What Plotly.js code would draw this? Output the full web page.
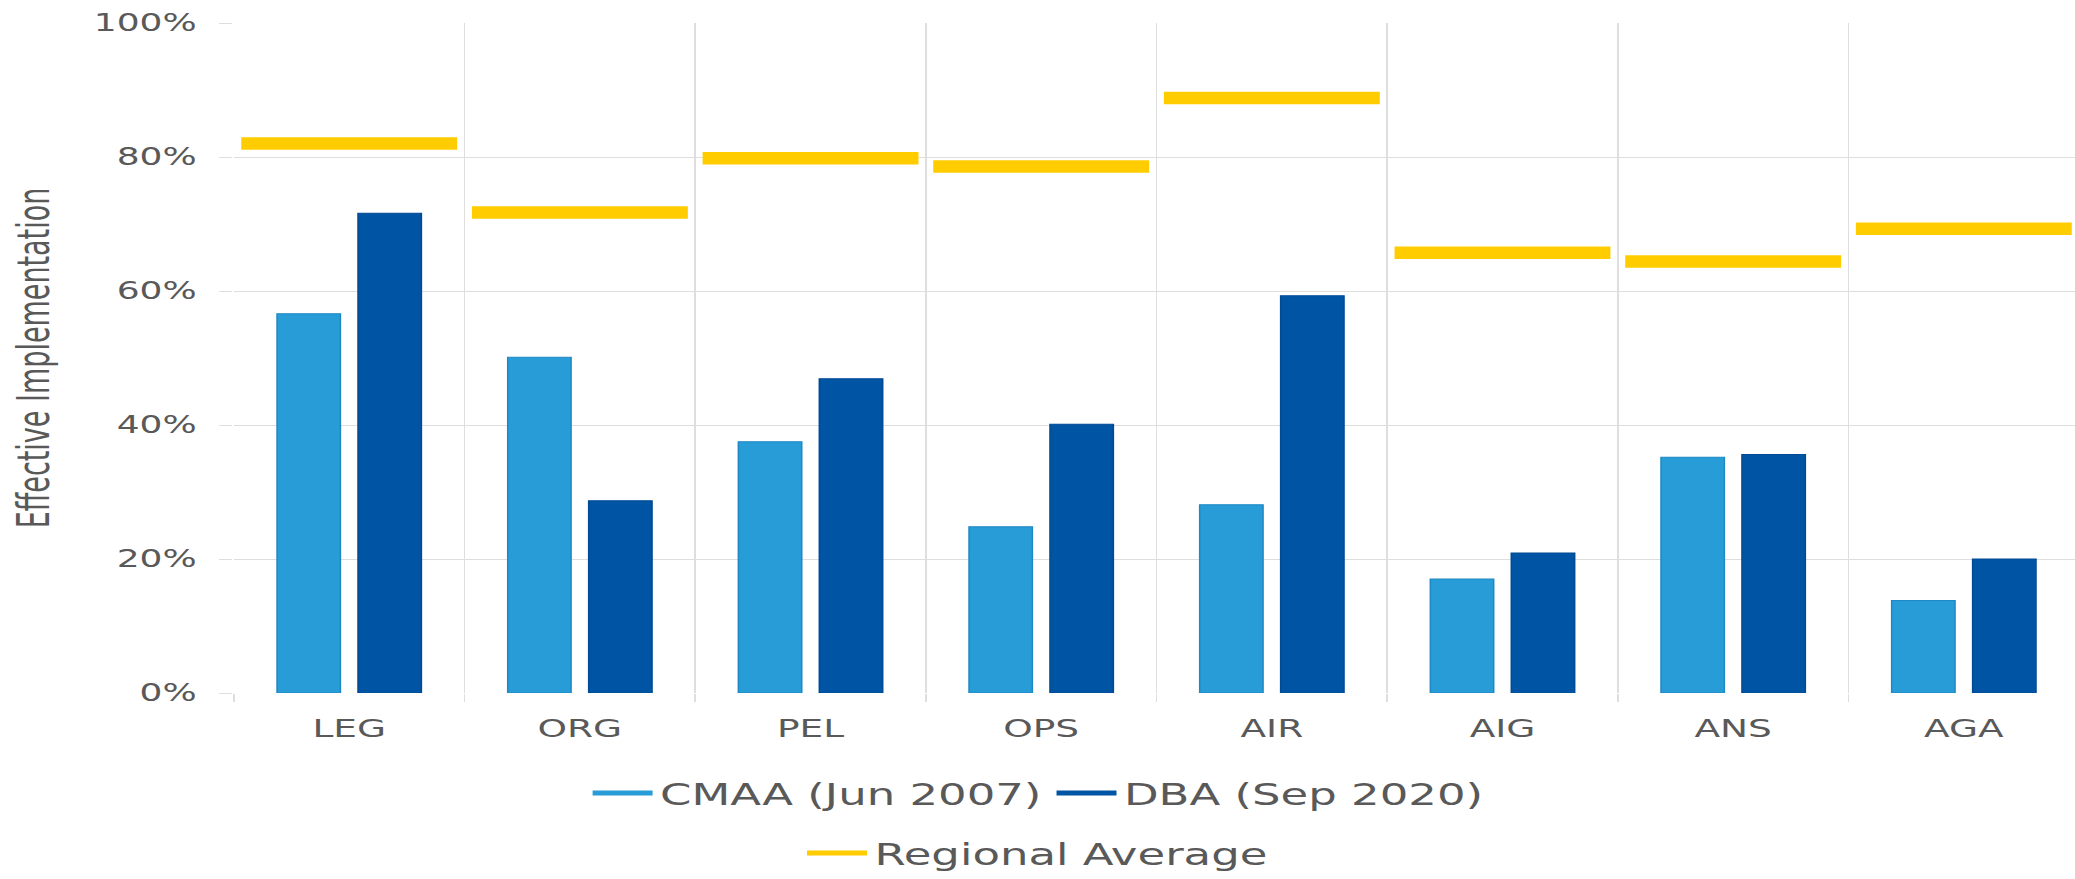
<!DOCTYPE html>
<html>
<head>
<meta charset="utf-8">
<script src="https://cdn.plot.ly/plotly-3.0.1.min.js"></script>
<style>
html, body { margin: 0; padding: 0; overflow: hidden; background: #ffffff; }
#wrap { width: 2075px; height: 879px; overflow: hidden; }
#chart { width: 1384px; height: 879px; transform: scaleX(1.49928); transform-origin: 0 0; }
</style>
</head>
<body>
<div id="wrap"><div id="chart"></div></div>
<script>
// ---- data ----
const categories = ['LEG', 'ORG', 'PEL', 'OPS', 'AIR', 'AIG', 'ANS', 'AGA'];
const cmaaJun2007 = [56.6, 50.1, 37.5, 24.8, 28.1, 17.0, 35.2, 13.8];
const dbaSep2020 = [71.6, 28.7, 46.9, 40.1, 59.3, 20.9, 35.6, 20.0];
const regionalAverage = [82.0, 71.7, 79.8, 78.6, 88.8, 65.7, 64.4, 69.3];
const yTickValues = [0, 20, 40, 60, 80, 100];
const yTickLabels = ['0%', '20%', '40%', '60%', '80%', '100%'];
const seriesNames = ['CMAA (Jun 2007)', 'DBA (Sep 2020)', 'Regional Average'];

// ---- styles ----
const colLight = '#279cd7';
const colDark = '#0054a4';
const colYellow = '#ffcc00';
const gridCol = '#dedede';
const textCol = '#595959';
const halfSeg = 0.468;

const idx = categories.map((c, i) => i);
const bounds = categories.map((c, i) => i - 0.5).concat([categories.length - 0.5]);

// yellow horizontal segments, one per category
const segX = [], segY = [];
regionalAverage.forEach((v, i) => {
  segX.push(i - halfSeg, i + halfSeg, null);
  segY.push(v, v, null);
});

const traces = [
  { type: 'bar', x: idx, y: cmaaJun2007, name: seriesNames[0], legendgroup: 'a', showlegend: false,
    marker: { color: colLight, line: { color: '#1f88c4', width: 1 } }, hoverinfo: 'x+y' },
  { type: 'bar', x: idx, y: dbaSep2020, name: seriesNames[1], legendgroup: 'b', showlegend: false,
    marker: { color: colDark, line: { color: '#004a92', width: 1 } }, hoverinfo: 'x+y' },
  { type: 'scatter', mode: 'lines', x: segX, y: segY, name: seriesNames[2], legendgroup: 'c', showlegend: false,
    line: { color: colYellow, width: 12.5 }, hoverinfo: 'y' },
  // legend entries (line style swatches as in the reference)
  { type: 'scatter', mode: 'lines', x: [null], y: [null], name: seriesNames[0], legendgroup: 'a',
    line: { color: colLight, width: 5 }, legend: 'legend' },
  { type: 'scatter', mode: 'lines', x: [null], y: [null], name: seriesNames[1], legendgroup: 'b',
    line: { color: colDark, width: 5 }, legend: 'legend' },
  { type: 'scatter', mode: 'lines', x: [null], y: [null], name: seriesNames[2], legendgroup: 'c',
    line: { color: colYellow, width: 5 }, legend: 'legend2' }
];

const legendBase = {
  orientation: 'h', xanchor: 'center', yanchor: 'middle',
  font: { family: 'DejaVu Sans, Verdana, sans-serif', size: 30, color: textCol },
  itemwidth: 40, bgcolor: 'rgba(0,0,0,0)', traceorder: 'normal'
};

const layout = {
  width: 1384, height: 879,
  margin: { l: 156, r: 0, t: 23, b: 185, pad: 0 },
  paper_bgcolor: '#ffffff', plot_bgcolor: '#ffffff',
  barmode: 'group', bargap: 0.298, bargroupgap: 0.217,
  showlegend: true,
  xaxis: {
    type: 'linear', range: [-0.5, 7.482],
    tickmode: 'array', tickvals: idx, ticktext: categories,
    showgrid: false, zeroline: false, showline: false, ticks: '',
    tickfont: { family: 'DejaVu Sans, Verdana, sans-serif', size: 25, color: textCol },
    ticklabelstandoff: 18,
    minor: { tickmode: 'array', tickvals: bounds, showgrid: true, gridcolor: gridCol, gridwidth: 1,
             ticks: 'outside', ticklen: 8, tickcolor: gridCol, tickwidth: 1 }
  },
  yaxis: {
    range: [0, 100], tickmode: 'array', tickvals: yTickValues, ticktext: yTickLabels,
    showgrid: true, gridcolor: gridCol, gridwidth: 1, zeroline: false, showline: false,
    ticks: 'outside', ticklen: 9, tickcolor: gridCol, tickwidth: 1,
    ticklabelstandoff: 10,
    tickfont: { family: 'DejaVu Sans, Verdana, sans-serif', size: 24, color: textCol },
    title: { text: 'Effective Implementation', standoff: 20,
             font: { family: '"Liberation Sans Narrow", "DejaVu Sans Condensed", "Liberation Sans", sans-serif', size: 30, color: textCol } }
  },
  legend: Object.assign({}, legendBase, { x: 0.4367, y: -0.1475 }),
  legend2: Object.assign({}, legendBase, { x: 0.4367, y: -0.2385 })
};

Plotly.newPlot('chart', traces, layout, { displayModeBar: false, responsive: false });
</script>
</body>
</html>
